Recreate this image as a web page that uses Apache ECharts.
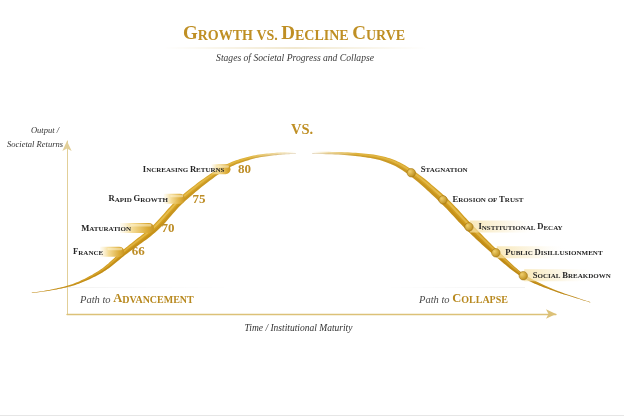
<!DOCTYPE html>
<html><head><meta charset="utf-8">
<script src="https://cdn.jsdelivr.net/npm/echarts@6/dist/echarts.min.js"></script>
<style>html,body{margin:0;padding:0;background:#fff}#c{width:624px;height:416px}</style>
</head><body><div id="c"></div>
<script>
// ---- data ----
const leftCurveT = [-7.2, -2.5, 2.3, 7.4, 11.9, 18.0, 23.7, 31.7, 37.4, 42.7, 46.8];
const leftCurveV = [59.0, 59.6, 60.7, 62.9, 66, 70, 75, 80, 81.9, 82.6, 82.8];
const rightCurveT = [50.1, 57.9, 65.0, 70.4, 76.9, 82.2, 87.7, 93.3, 99.4, 107.0];
const rightCurveV = [82.8, 82.6, 81.7, 79.4, 74.8, 70.2, 65.8, 61.9, 59.5, 57.4];
const growthStages = ['France', 'Maturation', 'Rapid Growth', 'Increasing Returns'];
const growthT = [11.9, 18.0, 23.7, 31.7];
const growthValues = [66, 70, 75, 80];
const declineStages = ['Stagnation', 'Erosion of Trust', 'Institutional Decay', 'Public Disillusionment', 'Social Breakdown'];
const declineT = [70.4, 76.9, 82.2, 87.7, 93.3];
const declineV = [79.4, 74.8, 70.2, 65.8, 61.9];
const declineHighlight = [false, false, true, true, true];

// ---- layout / style constants ----
const pillLayout = [
  {over: -1, len: 24, gap: 21},
  {over: -1, len: 34, gap: 23},
  {over: 2, len: 21, gap: 17},
  {over: 8.5, len: 19, gap: 6}
];
const SERIF = 'Liberation Serif';
const GOLD = '#bf8f24';
const G = echarts.graphic;

function sc(str) {
  const parts = []; let cur = null, buf = '';
  for (const ch of str) {
    const k = (ch >= 'A' && ch <= 'Z') ? 'c' : 's';
    if (k !== cur) { if (buf) parts.push('{' + cur + '|' + buf + '}'); buf = ''; cur = k; }
    buf += ch.toUpperCase();
  }
  if (buf) parts.push('{' + cur + '|' + buf + '}');
  return parts.join('');
}
function scRich(c, s, weight, color) {
  return {
    c: {fontSize: c, fontFamily: SERIF, fontWeight: weight, fill: color, lineHeight: c, verticalAlign: 'bottom'},
    s: {fontSize: s, fontFamily: SERIF, fontWeight: weight, fill: color, lineHeight: 0.32 * c + 0.68 * s, verticalAlign: 'bottom'}
  };
}
function spline(pts, n) {
  const out = [];
  for (let i = 0; i < pts.length - 1; i++) {
    const p0 = pts[Math.max(i - 1, 0)], p1 = pts[i], p2 = pts[i + 1], p3 = pts[Math.min(i + 2, pts.length - 1)];
    for (let k = 0; k < n; k++) {
      const t = k / n, t2 = t * t, t3 = t2 * t;
      const f = j => 0.5 * ((2 * p1[j]) + (-p0[j] + p2[j]) * t + (2 * p0[j] - 5 * p1[j] + 4 * p2[j] - p3[j]) * t2 + (-p0[j] + 3 * p1[j] - 3 * p2[j] + p3[j]) * t3);
      out.push([f(0), f(1)]);
    }
  }
  out.push(pts[pts.length - 1]);
  return out;
}
function ease(t) { t = Math.max(0, Math.min(1, t)); return t * t * (3 - 2 * t); }
function ribbon(pts, wFn, shift, scale) {
  const L = [0];
  for (let i = 1; i < pts.length; i++) L.push(L[i - 1] + Math.hypot(pts[i][0] - pts[i - 1][0], pts[i][1] - pts[i - 1][1]));
  const total = L[L.length - 1];
  const up = [], dn = [];
  for (let i = 0; i < pts.length; i++) {
    const a = pts[Math.max(i - 1, 0)], b = pts[Math.min(i + 1, pts.length - 1)];
    let tx = b[0] - a[0], ty = b[1] - a[1]; const d = Math.hypot(tx, ty) || 1; tx /= d; ty /= d;
    const nx = ty, ny = -tx;
    const w = wFn(L[i] / total);
    const c = shift * w, h = scale * w / 2;
    up.push([pts[i][0] + nx * (c + h), pts[i][1] + ny * (c + h)]);
    dn.push([pts[i][0] + nx * (c - h), pts[i][1] + ny * (c - h)]);
  }
  return up.concat(dn.reverse());
}
const leftW = u => u < 0.5 ? 0.5 + 6.3 * ease(u / 0.5) : 6.8 - 4.6 * ease((u - 0.5) / 0.5);
const rightW = u => u < 0.5 ? 2.2 + 5.6 * ease(u / 0.5) : 7.8 - 7.3 * ease((u - 0.5) / 0.5);

function curveRender(T, V, wFn, stops) {
  return function (params, api) {
    if (params.dataIndex !== 0) return null;
    const px = T.map((t, i) => api.coord([t, V[i]]));
    const pts = spline(px, 14);
    const x0 = px[0][0], x1 = px[px.length - 1][0];
    return {
      type: 'group',
      children: [
        {type: 'polygon', shape: {points: ribbon(pts, wFn, 0, 1)},
          style: {fill: new G.LinearGradient(x0, 0, x1, 0, stops, true)}},
        {type: 'polygon', shape: {points: ribbon(pts, wFn, -0.32, 0.36)},
          style: {fill: 'rgba(150,100,10,0.22)'}},
        {type: 'polygon', shape: {points: ribbon(pts, wFn, 0.2, 0.28)},
          style: {fill: new G.LinearGradient(x0, 0, x1, 0, [
            {offset: 0, color: 'rgba(250,222,130,0.0)'},
            {offset: 0.5, color: 'rgba(250,222,130,0.45)'},
            {offset: 1, color: 'rgba(250,222,130,0.0)'}], true)}}
      ]
    };
  };
}

const chart = echarts.init(document.getElementById('c'), null, {renderer: 'canvas'});
const pathRich = Object.assign(scRich(12.5, 10, 'bold', '#b8891f'),
  {p: {fontFamily: SERIF, fontStyle: 'italic', fontSize: 10.5, fill: '#4a4a4a', lineHeight: 12, verticalAlign: 'bottom'}});
const option = {
  animation: false,
  backgroundColor: '#ffffff',
  grid: {left: 67, right: 68, top: 141, bottom: 102},
  xAxis: {
    type: 'value', min: 0, max: 100,
    axisLine: {show: true, symbol: ['none', 'arrow'], symbolSize: [7, 10],
      lineStyle: {color: '#dcc178', width: 1.3}},
    axisTick: {show: false}, axisLabel: {show: false}, splitLine: {show: false}
  },
  yAxis: {
    type: 'value', min: 55.4, max: 84.8,
    axisLine: {show: true, symbol: ['none', 'arrow'], symbolSize: [7, 10],
      lineStyle: {color: '#e2cf98', width: 1}},
    axisTick: {show: false}, axisLabel: {show: false}, splitLine: {show: false}
  },
  graphic: [
    {type: 'text', x: 294, y: 34, style: {text: sc('Growth vs. Decline Curve'), rich: scRich(19, 14, 'bold', GOLD), align: 'center', verticalAlign: 'middle', fill: GOLD}},
    {type: 'rect', shape: {x: 163, y: 47.5, width: 264, height: 1},
      style: {fill: new G.LinearGradient(0, 0, 1, 0, [
        {offset: 0, color: 'rgba(225,205,150,0)'}, {offset: 0.5, color: 'rgba(225,205,150,0.9)'}, {offset: 1, color: 'rgba(225,205,150,0)'}])}},
    {type: 'text', x: 295, y: 58, style: {text: 'Stages of Societal Progress and Collapse', fontFamily: SERIF, fontStyle: 'italic', fontSize: 9.6, fill: '#3a3a3a', align: 'center', verticalAlign: 'middle'}},
    {type: 'text', x: 302, y: 130, style: {text: 'VS.', fontFamily: SERIF, fontWeight: 'bold', fontSize: 14.5, fill: GOLD, align: 'center', verticalAlign: 'middle'}},
    {type: 'text', x: 59, y: 131, style: {text: 'Output /', fontFamily: SERIF, fontStyle: 'italic', fontSize: 8.5, fill: '#333', align: 'right', verticalAlign: 'middle'}},
    {type: 'text', x: 63, y: 145, style: {text: 'Societal Returns', fontFamily: SERIF, fontStyle: 'italic', fontSize: 8.5, fill: '#333', align: 'right', verticalAlign: 'middle'}},
    {type: 'text', x: 298.5, y: 328, style: {text: 'Time / Institutional Maturity', fontFamily: SERIF, fontStyle: 'italic', fontSize: 9.5, fill: '#333', align: 'center', verticalAlign: 'middle'}},
    {type: 'rect', shape: {x: 62, y: 287, width: 170, height: 1},
      style: {fill: new G.LinearGradient(0, 0, 1, 0, [{offset: 0, color: 'rgba(0,0,0,0.05)'}, {offset: 1, color: 'rgba(0,0,0,0)'}])}},
    {type: 'rect', shape: {x: 385, y: 287, width: 140, height: 1},
      style: {fill: new G.LinearGradient(0, 0, 1, 0, [{offset: 0, color: 'rgba(0,0,0,0)'}, {offset: 1, color: 'rgba(0,0,0,0.05)'}])}},
    {type: 'text', x: 80, y: 299, style: {text: '{p|Path to }{c|A}{s|DVANCEMENT}', rich: pathRich, align: 'left', verticalAlign: 'middle'}},
    {type: 'text', x: 419, y: 299, style: {text: '{p|Path to }{c|C}{s|OLLAPSE}', rich: pathRich, align: 'left', verticalAlign: 'middle'}},
    {type: 'rect', shape: {x: 0, y: 415, width: 624, height: 1}, style: {fill: '#e6e6e6'}}
  ],
  series: [
    {
      type: 'custom', name: 'Advancement curve', z: 2,
      data: leftCurveT.map((t, i) => [t, leftCurveV[i]]),
      renderItem: curveRender(leftCurveT, leftCurveV, leftW,
        [{offset: 0, color: '#c48d14'}, {offset: 0.45, color: '#d49f1f'}, {offset: 0.82, color: '#dcaf35'},
         {offset: 0.93, color: 'rgba(225,185,80,0.5)'}, {offset: 1, color: 'rgba(232,200,110,0)'}])
    },
    {
      type: 'custom', name: 'Collapse curve', z: 2,
      data: rightCurveT.map((t, i) => [t, rightCurveV[i]]),
      renderItem: curveRender(rightCurveT, rightCurveV, rightW,
        [{offset: 0, color: 'rgba(232,200,110,0)'}, {offset: 0.06, color: 'rgba(225,185,80,0.5)'}, {offset: 0.16, color: '#dcaf38'},
         {offset: 0.5, color: '#d29d1e'}, {offset: 1, color: '#bd8714'}])
    },
    {
      type: 'custom', name: 'Growth stages', z: 4,
      data: growthT.map((t, i) => [t, growthValues[i]]),
      renderItem: function (params, api) {
        const i = params.dataIndex;
        const p = api.coord([api.value(0), api.value(1)]);
        const lay = pillLayout[i];
        const end = p[0] + lay.over, start = end - lay.len;
        return {
          type: 'group',
          children: [
            {type: 'rect', shape: {x: start, y: p[1] - 5, width: lay.len, height: 10, r: [0, 5, 5, 0]},
              style: {fill: new G.LinearGradient(start, 0, end, 0, [
                {offset: 0, color: 'rgba(250,236,195,0.2)'}, {offset: 0.35, color: 'rgba(244,218,145,0.95)'},
                {offset: 0.8, color: '#dcac38'}, {offset: 1, color: '#c79522'}], true)}},
            {type: 'rect', shape: {x: start + lay.len * 0.3, y: p[1] - 4, width: lay.len * 0.62, height: 2.5, r: 1.2},
              style: {fill: 'rgba(255,248,220,0.5)'}},
            {type: 'text', x: end - lay.gap, y: p[1] + 0.5,
              style: {text: sc(growthStages[i]), rich: scRich(8.6, 7, 'bold', '#262626'), align: 'right', verticalAlign: 'middle', fill: '#262626'}},
            {type: 'text', x: end + 7.5, y: p[1] + 0.5,
              style: {text: String(api.value(1)), fontFamily: SERIF, fontWeight: 'bold', fontSize: 13, fill: '#bd8d26', align: 'left', verticalAlign: 'middle'}}
          ]
        };
      }
    },
    {
      type: 'custom', name: 'Decline stages', z: 4,
      data: declineT.map((t, i) => [t, declineV[i]]),
      renderItem: function (params, api) {
        const i = params.dataIndex;
        const p = api.coord([api.value(0), api.value(1)]);
        const ch = [];
        if (declineHighlight[i]) {
          ch.push({type: 'rect', shape: {x: p[0] + 1, y: p[1] - 6.5, width: 72, height: 12},
            style: {fill: new G.LinearGradient(p[0], 0, p[0] + 72, 0, [
              {offset: 0, color: 'rgba(246,224,160,0.75)'}, {offset: 0.5, color: 'rgba(248,234,195,0.45)'}, {offset: 1, color: 'rgba(255,255,255,0)'}], true)}});
        }
        ch.push({type: 'circle', shape: {cx: p[0], cy: p[1], r: 4.2},
          style: {fill: new G.RadialGradient(0.35, 0.35, 0.8, [{offset: 0, color: '#f0cf6c'}, {offset: 1, color: '#b1810f'}]), stroke: '#a27410', lineWidth: 0.6}});
        ch.push({type: 'text', x: p[0] + 9.5, y: p[1] + (i === 0 ? -3 : 0),
          style: {text: sc(declineStages[i]), rich: scRich(8.6, 7, 'bold', '#262626'), align: 'left', verticalAlign: 'middle', fill: '#262626'}});
        return {type: 'group', children: ch};
      }
    }
  ]
};
chart.setOption(option);
</script></body></html>
